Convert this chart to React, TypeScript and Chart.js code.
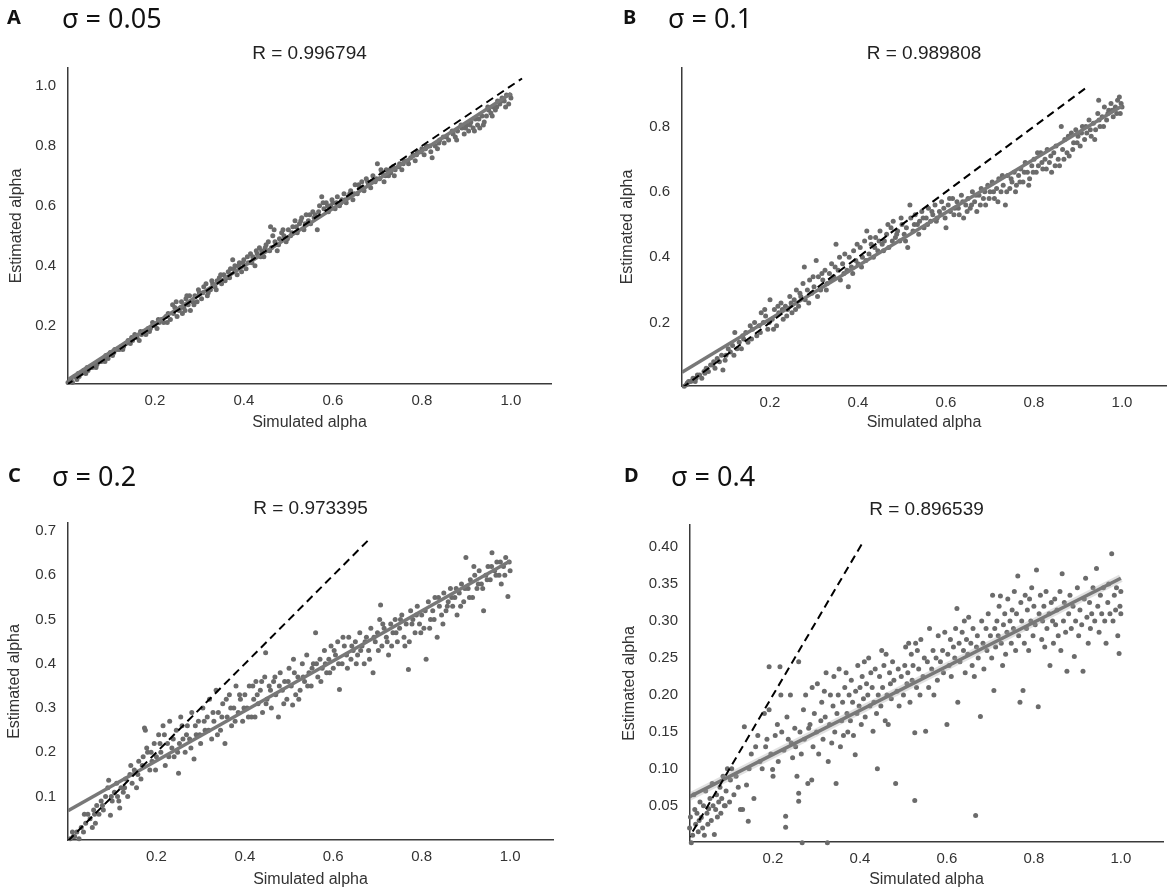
import React, { useEffect, useRef } from "react";
import { Chart, registerables } from "chart.js";

Chart.register(...registerables);

// ---------------- data ----------------
const xTickValues = [0.2, 0.4, 0.6, 0.8, 1.0];
const yTicksA = [0.2, 0.4, 0.6, 0.8, 1.0];
const yTicksB = [0.2, 0.4, 0.6, 0.8];
const yTicksC = [0.1, 0.2, 0.3, 0.4, 0.5, 0.6, 0.7];
const yTicksD = [0.05, 0.1, 0.15, 0.2, 0.25, 0.3, 0.35, 0.4];

const panelLetters = ["A", "B", "C", "D"];
const sigmaTitles = ["σ = 0.05", "σ = 0.1", "σ = 0.2", "σ = 0.4"];
const rTitles = ["R = 0.996794", "R = 0.989808", "R = 0.973395", "R = 0.896539"];

const fitA = [[0, 0.015], [1.0, 0.975]];
const fitB = [[0, 0.048], [1.0, 0.863]];
const fitC = [[0, 0.068], [1.0, 0.632]];
const fitD = [[0, 0.06], [1.0, 0.358]];

const identityA = [[0, 0], [1.025, 1.025]];
const identityB = [[0, 0], [0.92, 0.92]];
const identityC = [[0, 0], [0.682, 0.682]];
const identityD = [[0, 0], [0.405, 0.405]];

const pointsA = [
  [0.005,0.01],[0.01,0.02],[0.015,0.01],[0.02,0.03],[0.025,0.02],[0.03,0.03],[0.035,0.04],[0.04,0.05],[0.045,0.04],[0.05,0.05],
  [0.055,0.06],[0.06,0.06],[0.065,0.07],[0.07,0.07],[0.075,0.08],[0.08,0.08],[0.085,0.09],[0.09,0.1],[0.095,0.09],[0.1,0.11],
  [0.105,0.1],[0.11,0.12],[0.115,0.12],[0.12,0.12],[0.125,0.13],[0.13,0.13],[0.135,0.14],[0.14,0.15],[0.145,0.14],[0.15,0.15],
  [0.155,0.17],[0.16,0.16],[0.165,0.15],[0.17,0.17],[0.175,0.18],[0.18,0.17],[0.185,0.19],[0.19,0.19],[0.195,0.21],[0.2,0.2],
  [0.205,0.19],[0.21,0.21],[0.215,0.22],[0.22,0.21],[0.225,0.23],[0.23,0.24],[0.235,0.22],[0.24,0.27],[0.242,0.24],[0.245,0.26],
  [0.25,0.23],[0.255,0.25],[0.26,0.28],[0.262,0.24],[0.265,0.26],[0.27,0.29],[0.272,0.3],[0.275,0.27],[0.28,0.25],[0.285,0.28],
  [0.29,0.3],[0.295,0.28],[0.3,0.31],[0.305,0.29],[0.31,0.33],[0.315,0.34],[0.32,0.31],[0.325,0.32],[0.33,0.34],[0.335,0.33],
  [0.34,0.35],[0.345,0.36],[0.35,0.34],[0.355,0.37],[0.36,0.36],[0.365,0.38],[0.37,0.39],[0.375,0.42],[0.38,0.4],[0.385,0.37],
  [0.39,0.41],[0.395,0.38],[0.4,0.42],[0.405,0.39],[0.41,0.41],[0.415,0.44],[0.42,0.43],[0.425,0.4],[0.43,0.44],[0.435,0.46],
  [0.44,0.45],[0.445,0.43],[0.45,0.47],[0.455,0.48],[0.46,0.53],[0.462,0.46],[0.465,0.5],[0.47,0.48],[0.475,0.45],[0.48,0.49],
  [0.485,0.51],[0.49,0.5],[0.495,0.48],[0.5,0.52],[0.505,0.5],[0.51,0.53],[0.515,0.55],[0.52,0.51],[0.525,0.54],[0.53,0.56],
  [0.535,0.52],[0.54,0.57],[0.545,0.55],[0.55,0.54],[0.555,0.58],[0.56,0.57],[0.565,0.52],[0.57,0.6],[0.575,0.63],[0.58,0.59],
  [0.585,0.61],[0.59,0.58],[0.595,0.6],[0.6,0.61],[0.605,0.59],[0.61,0.63],[0.615,0.6],[0.62,0.62],[0.625,0.64],[0.63,0.61],
  [0.635,0.63],[0.64,0.65],[0.645,0.62],[0.65,0.67],[0.655,0.64],[0.66,0.66],[0.665,0.68],[0.67,0.65],[0.675,0.69],[0.68,0.67],
  [0.685,0.66],[0.69,0.7],[0.695,0.68],[0.7,0.74],[0.705,0.69],[0.71,0.71],[0.715,0.68],[0.72,0.72],[0.725,0.7],[0.73,0.71],
  [0.735,0.73],[0.74,0.72],[0.75,0.74],[0.755,0.72],[0.76,0.75],[0.77,0.74],[0.775,0.76],[0.78,0.77],[0.785,0.75],[0.79,0.78],
  [0.8,0.79],[0.805,0.77],[0.81,0.8],[0.82,0.78],[0.823,0.76],[0.83,0.8],[0.835,0.79],[0.84,0.82],[0.85,0.81],[0.855,0.83],
  [0.86,0.82],[0.87,0.84],[0.875,0.83],[0.88,0.85],[0.89,0.86],[0.895,0.84],[0.9,0.87],[0.905,0.85],[0.91,0.88],[0.915,0.86],
  [0.92,0.89],[0.925,0.87],[0.93,0.86],[0.935,0.9],[0.94,0.88],[0.945,0.9],[0.95,0.92],[0.955,0.91],[0.96,0.93],[0.965,0.92],
  [0.97,0.95],[0.975,0.94],[0.98,0.96],[0.985,0.95],[0.99,0.97],[0.995,0.94],[1.0,0.96],
  [0.012,0.02],[0.028,0.04],[0.048,0.06],[0.068,0.06],[0.088,0.08],[0.108,0.11],[0.128,0.12],[0.148,0.16],[0.168,0.18],[0.188,0.18],
  [0.208,0.22],[0.228,0.21],[0.248,0.28],[0.258,0.26],[0.268,0.25],[0.278,0.3],[0.288,0.27],[0.298,0.32],[0.308,0.31],[0.318,0.3],
  [0.328,0.35],[0.338,0.32],[0.348,0.37],[0.358,0.35],[0.368,0.36],[0.378,0.39],[0.388,0.4],[0.398,0.41],[0.408,0.43],[0.418,0.41],
  [0.428,0.45],[0.438,0.43],[0.448,0.46],[0.458,0.45],[0.468,0.52],[0.478,0.47],[0.488,0.52],[0.498,0.49],[0.508,0.51],[0.518,0.53],
  [0.528,0.55],[0.538,0.54],[0.548,0.57],[0.558,0.56],[0.568,0.58],[0.578,0.61],[0.588,0.6],[0.598,0.62],[0.608,0.61],[0.618,0.61],
  [0.628,0.62],[0.638,0.64],[0.648,0.64],[0.658,0.67],[0.668,0.66],[0.678,0.68],[0.688,0.68],[0.698,0.69],[0.708,0.72],[0.718,0.7],
  [0.728,0.72],[0.738,0.7],[0.748,0.73],[0.758,0.74],[0.768,0.75],[0.788,0.77],[0.798,0.78],[0.808,0.79],[0.818,0.8],[0.838,0.81],
  [0.848,0.83],[0.868,0.85],[0.878,0.82],[0.888,0.87],[0.898,0.86],[0.908,0.87],[0.918,0.85],[0.928,0.89],[0.938,0.87],[0.948,0.93],
  [0.958,0.9],[0.968,0.93],[0.978,0.95],[0.988,0.93],[0.998,0.97]
];

const pointsB = [
  [0.005,0.005],[0.01,0.01],[0.015,0.02],[0.02,0.02],[0.025,0.03],[0.03,0.02],[0.035,0.04],[0.04,0.04],[0.045,0.03],[0.05,0.05],
  [0.055,0.06],[0.06,0.05],[0.065,0.07],[0.07,0.07],[0.075,0.06],[0.08,0.09],[0.085,0.08],[0.09,0.1],[0.093,0.055],[0.1,0.1],
  [0.105,0.12],[0.11,0.11],[0.115,0.13],[0.12,0.17],[0.125,0.12],[0.13,0.14],[0.135,0.12],[0.14,0.15],[0.145,0.17],[0.15,0.14],
  [0.155,0.19],[0.16,0.18],[0.165,0.2],[0.17,0.16],[0.175,0.19],[0.18,0.23],[0.185,0.2],[0.19,0.22],[0.195,0.18],[0.2,0.27],
  [0.205,0.21],[0.21,0.24],[0.215,0.19],[0.22,0.23],[0.225,0.26],[0.23,0.21],[0.235,0.25],[0.24,0.24],[0.245,0.28],[0.25,0.23],
  [0.255,0.27],[0.26,0.3],[0.265,0.25],[0.27,0.28],[0.275,0.32],[0.278,0.37],[0.28,0.27],[0.285,0.3],[0.29,0.33],[0.295,0.29],
  [0.3,0.31],[0.305,0.39],[0.31,0.34],[0.315,0.3],[0.32,0.33],[0.325,0.36],[0.33,0.32],[0.335,0.35],[0.34,0.38],[0.345,0.34],
  [0.35,0.44],[0.355,0.36],[0.36,0.33],[0.365,0.38],[0.37,0.41],[0.375,0.36],[0.378,0.31],[0.38,0.4],[0.385,0.37],[0.39,0.42],
  [0.395,0.39],[0.4,0.38],[0.405,0.43],[0.41,0.4],[0.415,0.45],[0.42,0.48],[0.425,0.41],[0.43,0.44],[0.435,0.4],[0.44,0.46],
  [0.445,0.42],[0.45,0.48],[0.455,0.44],[0.46,0.45],[0.465,0.47],[0.47,0.43],[0.475,0.49],[0.48,0.51],[0.485,0.46],[0.49,0.48],
  [0.495,0.45],[0.5,0.5],[0.505,0.47],[0.51,0.49],[0.513,0.43],[0.518,0.56],[0.52,0.52],[0.525,0.48],[0.53,0.53],[0.535,0.5],
  [0.54,0.51],[0.545,0.54],[0.55,0.49],[0.555,0.52],[0.56,0.55],[0.565,0.51],[0.57,0.53],[0.575,0.56],[0.58,0.52],[0.585,0.54],
  [0.59,0.57],[0.595,0.55],[0.6,0.49],[0.605,0.56],[0.61,0.54],[0.615,0.58],[0.62,0.55],[0.625,0.57],[0.63,0.53],[0.635,0.59],
  [0.64,0.52],[0.645,0.56],[0.65,0.58],[0.655,0.55],[0.66,0.6],[0.665,0.57],[0.67,0.54],[0.675,0.59],[0.68,0.61],[0.685,0.58],
  [0.69,0.56],[0.695,0.62],[0.7,0.6],[0.705,0.63],[0.71,0.58],[0.715,0.61],[0.72,0.64],[0.725,0.6],[0.73,0.62],[0.735,0.56],
  [0.74,0.65],[0.745,0.61],[0.75,0.63],[0.755,0.66],[0.76,0.62],[0.765,0.65],[0.77,0.67],[0.775,0.63],[0.78,0.69],[0.785,0.66],
  [0.79,0.64],[0.795,0.68],[0.8,0.7],[0.805,0.66],[0.81,0.68],[0.815,0.72],[0.82,0.67],[0.825,0.7],[0.83,0.73],[0.835,0.69],
  [0.84,0.66],[0.845,0.72],[0.85,0.74],[0.855,0.7],[0.858,0.68],[0.862,0.8],[0.865,0.73],[0.87,0.76],[0.875,0.72],[0.88,0.71],
  [0.885,0.78],[0.89,0.75],[0.895,0.79],[0.9,0.77],[0.905,0.74],[0.91,0.8],[0.915,0.76],[0.92,0.78],[0.925,0.82],[0.93,0.77],
  [0.935,0.81],[0.94,0.79],[0.945,0.84],[0.947,0.88],[0.95,0.8],[0.955,0.83],[0.96,0.86],[0.965,0.82],[0.97,0.85],[0.975,0.87],
  [0.98,0.83],[0.985,0.86],[0.99,0.88],[0.994,0.89],[0.996,0.84],[1.0,0.86],
  [0.012,0.015],[0.032,0.03],[0.052,0.045],[0.072,0.08],[0.098,0.085],[0.118,0.1],[0.138,0.16],[0.158,0.15],[0.178,0.17],[0.188,0.24],
  [0.198,0.2],[0.208,0.18],[0.218,0.25],[0.228,0.24],[0.238,0.22],[0.248,0.26],[0.258,0.24],[0.268,0.29],[0.288,0.26],[0.298,0.34],
  [0.308,0.28],[0.318,0.35],[0.328,0.3],[0.338,0.33],[0.348,0.37],[0.358,0.4],[0.368,0.35],[0.388,0.35],[0.398,0.44],[0.408,0.37],
  [0.418,0.39],[0.428,0.46],[0.438,0.43],[0.448,0.45],[0.458,0.42],[0.468,0.5],[0.478,0.45],[0.488,0.47],[0.498,0.52],[0.508,0.45],
  [0.528,0.5],[0.538,0.47],[0.548,0.52],[0.558,0.5],[0.568,0.54],[0.578,0.51],[0.588,0.53],[0.598,0.52],[0.608,0.58],[0.618,0.53],
  [0.628,0.55],[0.638,0.57],[0.648,0.54],[0.658,0.56],[0.668,0.59],[0.678,0.56],[0.688,0.6],[0.698,0.58],[0.708,0.6],[0.718,0.57],
  [0.728,0.65],[0.738,0.6],[0.748,0.64],[0.758,0.6],[0.768,0.63],[0.778,0.66],[0.788,0.62],[0.798,0.66],[0.808,0.72],[0.818,0.69],
  [0.828,0.67],[0.838,0.71],[0.848,0.68],[0.868,0.7],[0.878,0.77],[0.888,0.73],[0.898,0.75],[0.908,0.78],[0.918,0.8],[0.928,0.79],
  [0.938,0.76],[0.948,0.82],[0.958,0.8],[0.968,0.84],[0.978,0.85],[0.988,0.84],[0.998,0.87]
];

const pointsC = [
  [0.005,0.005],[0.01,0.02],[0.015,0.01],[0.02,0.02],[0.025,0.005],[0.03,0.03],[0.037,0.06],[0.04,0.04],[0.045,0.06],[0.05,0.05],
  [0.055,0.03],[0.058,0.07],[0.06,0.06],[0.065,0.08],[0.07,0.06],[0.075,0.09],[0.08,0.07],[0.085,0.1],[0.09,0.12],[0.092,0.137],
  [0.096,0.058],[0.1,0.09],[0.105,0.11],[0.11,0.13],[0.115,0.09],[0.117,0.074],[0.12,0.12],[0.125,0.11],[0.13,0.14],[0.135,0.1],
  [0.14,0.15],[0.145,0.13],[0.15,0.16],[0.155,0.12],[0.16,0.18],[0.165,0.14],[0.17,0.19],[0.173,0.255],[0.175,0.25],[0.18,0.2],
  [0.185,0.16],[0.19,0.18],[0.195,0.22],[0.2,0.19],[0.205,0.24],[0.21,0.2],[0.215,0.26],[0.22,0.17],[0.225,0.22],[0.23,0.27],
  [0.235,0.21],[0.24,0.19],[0.245,0.25],[0.25,0.153],[0.252,0.22],[0.255,0.28],[0.26,0.23],[0.265,0.2],[0.27,0.26],[0.275,0.23],
  [0.28,0.29],[0.285,0.185],[0.29,0.24],[0.295,0.27],[0.3,0.22],[0.305,0.3],[0.31,0.25],[0.315,0.28],[0.32,0.32],[0.325,0.23],
  [0.33,0.27],[0.335,0.34],[0.34,0.29],[0.345,0.25],[0.35,0.31],[0.355,0.22],[0.36,0.28],[0.365,0.33],[0.37,0.26],[0.375,0.3],
  [0.38,0.35],[0.385,0.29],[0.39,0.32],[0.395,0.27],[0.4,0.33],[0.405,0.3],[0.41,0.35],[0.415,0.28],[0.42,0.32],[0.423,0.28],
  [0.425,0.36],[0.43,0.31],[0.435,0.34],[0.44,0.29],[0.445,0.37],[0.447,0.425],[0.45,0.32],[0.455,0.35],[0.46,0.3],[0.465,0.36],
  [0.47,0.33],[0.476,0.28],[0.48,0.38],[0.485,0.34],[0.49,0.36],[0.495,0.32],[0.5,0.39],[0.505,0.35],[0.508,0.307],[0.51,0.41],
  [0.515,0.33],[0.52,0.37],[0.525,0.34],[0.53,0.4],[0.535,0.36],[0.54,0.42],[0.545,0.38],[0.55,0.35],[0.555,0.4],[0.56,0.47],
  [0.565,0.37],[0.57,0.41],[0.575,0.39],[0.58,0.43],[0.585,0.38],[0.59,0.41],[0.595,0.44],[0.6,0.39],[0.605,0.42],[0.61,0.45],
  [0.614,0.342],[0.62,0.4],[0.625,0.44],[0.63,0.42],[0.635,0.46],[0.64,0.41],[0.645,0.43],[0.65,0.45],[0.655,0.42],[0.66,0.47],
  [0.665,0.44],[0.67,0.4],[0.675,0.46],[0.68,0.43],[0.685,0.48],[0.69,0.38],[0.695,0.45],[0.7,0.47],[0.705,0.5],[0.707,0.533],
  [0.71,0.44],[0.715,0.48],[0.72,0.46],[0.725,0.42],[0.73,0.49],[0.735,0.47],[0.74,0.5],[0.745,0.45],[0.75,0.48],[0.755,0.51],
  [0.76,0.46],[0.765,0.49],[0.77,0.387],[0.772,0.45],[0.775,0.52],[0.78,0.5],[0.785,0.47],[0.79,0.53],[0.795,0.49],[0.8,0.51],
  [0.805,0.48],[0.81,0.41],[0.815,0.54],[0.82,0.5],[0.825,0.52],[0.83,0.55],[0.835,0.46],[0.84,0.53],[0.845,0.51],[0.85,0.56],
  [0.855,0.52],[0.86,0.54],[0.865,0.57],[0.87,0.53],[0.875,0.55],[0.88,0.51],[0.885,0.56],[0.89,0.58],[0.895,0.54],[0.9,0.64],
  [0.905,0.57],[0.91,0.59],[0.915,0.55],[0.92,0.6],[0.925,0.57],[0.93,0.61],[0.935,0.58],[0.94,0.52],[0.945,0.6],[0.95,0.62],
  [0.955,0.59],[0.959,0.651],[0.965,0.61],[0.97,0.63],[0.975,0.6],[0.98,0.58],[0.985,0.62],[0.99,0.64],[0.995,0.552],[1.0,0.61],
  [0.012,0.01],[0.035,0.02],[0.062,0.04],[0.078,0.08],[0.098,0.1],[0.112,0.1],[0.128,0.12],[0.142,0.17],[0.158,0.15],[0.168,0.17],
  [0.178,0.21],[0.188,0.2],[0.198,0.16],[0.208,0.22],[0.218,0.24],[0.228,0.19],[0.238,0.23],[0.248,0.2],[0.258,0.26],[0.268,0.24],
  [0.278,0.21],[0.288,0.26],[0.298,0.24],[0.308,0.27],[0.318,0.25],[0.328,0.29],[0.338,0.24],[0.348,0.28],[0.358,0.32],[0.368,0.3],
  [0.378,0.27],[0.388,0.33],[0.398,0.3],[0.408,0.28],[0.418,0.35],[0.428,0.33],[0.438,0.36],[0.448,0.31],[0.458,0.34],[0.468,0.37],
  [0.478,0.35],[0.488,0.31],[0.498,0.36],[0.512,0.38],[0.522,0.32],[0.532,0.37],[0.542,0.35],[0.552,0.39],[0.562,0.4],[0.572,0.36],
  [0.582,0.4],[0.592,0.38],[0.602,0.43],[0.612,0.4],[0.622,0.46],[0.632,0.39],[0.642,0.44],[0.652,0.4],[0.662,0.43],[0.672,0.45],
  [0.682,0.41],[0.692,0.46],[0.702,0.43],[0.712,0.49],[0.722,0.45],[0.732,0.44],[0.742,0.47],[0.752,0.5],[0.762,0.44],[0.778,0.49],
  [0.788,0.51],[0.798,0.47],[0.808,0.52],[0.818,0.48],[0.828,0.5],[0.838,0.55],[0.848,0.49],[0.858,0.53],[0.868,0.55],[0.878,0.57],
  [0.888,0.53],[0.898,0.57],[0.908,0.55],[0.918,0.62],[0.928,0.58],[0.938,0.57],[0.948,0.59],[0.958,0.62],[0.968,0.6],[0.978,0.63],
  [0.988,0.6],[0.998,0.63]
];

const pointsD = [
  [0.005,0.005],[0.008,0.02],[0.01,0.035],[0.012,0.0],[0.015,0.01],[0.018,0.065],[0.02,0.045],[0.022,0.025],[0.025,0.04],[0.028,0.015],
  [0.03,0.03],[0.032,0.055],[0.035,0.034],[0.038,0.02],[0.04,0.05],[0.042,0.01],[0.045,0.07],[0.048,0.04],[0.05,0.025],[0.052,0.046],
  [0.055,0.06],[0.058,0.03],[0.06,0.08],[0.062,0.05],[0.065,0.011],[0.068,0.045],[0.07,0.065],[0.072,0.035],[0.075,0.055],[0.078,0.075],
  [0.08,0.04],[0.082,0.06],[0.085,0.09],[0.088,0.05],[0.09,0.05],[0.092,0.07],[0.095,0.1],[0.1,0.055],[0.102,0.085],[0.105,0.1],
  [0.11,0.065],[0.115,0.09],[0.12,0.075],[0.125,0.045],[0.13,0.045],[0.134,0.157],[0.139,0.078],[0.143,0.029],[0.145,0.1],[0.15,0.12],
  [0.156,0.06],[0.16,0.13],[0.165,0.145],[0.17,0.11],[0.175,0.1],[0.18,0.175],[0.183,0.13],[0.186,0.14],[0.191,0.18],[0.191,0.238],
  [0.195,0.12],[0.199,0.099],[0.2,0.09],[0.205,0.145],[0.21,0.16],[0.212,0.11],[0.216,0.238],[0.218,0.2],[0.22,0.15],[0.225,0.125],
  [0.229,0.036],[0.229,0.021],[0.232,0.17],[0.235,0.14],[0.24,0.2],[0.242,0.135],[0.245,0.115],[0.25,0.155],[0.252,0.13],[0.255,0.09],
  [0.259,0.245],[0.259,0.056],[0.259,0.067],[0.262,0.15],[0.265,0.12],[0.267,0.0],[0.27,0.18],[0.272,0.14],[0.275,0.2],[0.28,0.08],
  [0.282,0.155],[0.285,0.16],[0.289,0.085],[0.29,0.21],[0.292,0.13],[0.295,0.175],[0.3,0.15],[0.302,0.215],[0.305,0.12],[0.31,0.165],
  [0.312,0.19],[0.315,0.14],[0.318,0.205],[0.32,0.17],[0.322,0.23],[0.325,0.0],[0.327,0.11],[0.33,0.16],[0.332,0.2],[0.335,0.135],
  [0.338,0.185],[0.34,0.225],[0.342,0.15],[0.345,0.08],[0.347,0.175],[0.35,0.2],[0.352,0.235],[0.355,0.13],[0.358,0.165],[0.36,0.19],
  [0.362,0.145],[0.365,0.21],[0.368,0.23],[0.37,0.175],[0.372,0.15],[0.375,0.2],[0.378,0.165],[0.38,0.22],[0.383,0.19],[0.385,0.145],
  [0.389,0.119],[0.39,0.205],[0.393,0.175],[0.395,0.24],[0.398,0.185],[0.4,0.21],[0.403,0.16],[0.405,0.225],[0.408,0.195],[0.41,0.245],
  [0.412,0.17],[0.415,0.215],[0.418,0.2],[0.42,0.25],[0.423,0.185],[0.425,0.23],[0.428,0.21],[0.43,0.151],[0.432,0.19],[0.435,0.235],
  [0.438,0.175],[0.44,0.1],[0.442,0.2],[0.445,0.225],[0.448,0.185],[0.45,0.26],[0.452,0.21],[0.455,0.24],[0.458,0.165],[0.46,0.255],
  [0.462,0.2],[0.465,0.16],[0.468,0.23],[0.47,0.215],[0.472,0.195],[0.475,0.245],[0.478,0.22],[0.482,0.08],[0.485,0.205],[0.488,0.235],
  [0.49,0.185],[0.495,0.225],[0.5,0.2],[0.503,0.24],[0.505,0.265],[0.508,0.215],[0.51,0.23],[0.512,0.27],[0.515,0.19],[0.518,0.255],
  [0.52,0.22],[0.522,0.24],[0.526,0.057],[0.526,0.149],[0.528,0.27],[0.53,0.21],[0.532,0.26],[0.535,0.235],[0.538,0.2],[0.54,0.275],
  [0.545,0.225],[0.548,0.25],[0.551,0.151],[0.555,0.245],[0.558,0.21],[0.56,0.29],[0.565,0.235],[0.568,0.26],[0.57,0.2],[0.575,0.25],
  [0.578,0.22],[0.58,0.28],[0.585,0.245],[0.59,0.26],[0.592,0.23],[0.595,0.285],[0.6,0.16],[0.602,0.255],[0.605,0.24],[0.608,0.275],
  [0.61,0.225],[0.615,0.265],[0.618,0.25],[0.62,0.29],[0.623,0.317],[0.625,0.19],[0.628,0.27],[0.63,0.245],[0.635,0.285],[0.638,0.26],
  [0.64,0.3],[0.642,0.23],[0.645,0.275],[0.648,0.255],[0.65,0.305],[0.655,0.27],[0.658,0.24],[0.66,0.29],[0.663,0.225],[0.666,0.037],
  [0.668,0.265],[0.67,0.28],[0.672,0.25],[0.677,0.171],[0.68,0.3],[0.683,0.27],[0.685,0.235],[0.69,0.29],[0.692,0.26],[0.695,0.31],
  [0.7,0.28],[0.703,0.25],[0.705,0.335],[0.708,0.206],[0.71,0.29],[0.712,0.265],[0.715,0.3],[0.718,0.28],[0.72,0.32],[0.723,0.334],
  [0.725,0.27],[0.728,0.24],[0.73,0.295],[0.733,0.31],[0.735,0.255],[0.738,0.285],[0.74,0.33],[0.745,0.3],[0.748,0.27],[0.75,0.315],
  [0.753,0.29],[0.755,0.34],[0.758,0.26],[0.76,0.31],[0.763,0.361],[0.765,0.28],[0.768,0.19],[0.77,0.325],[0.772,0.3],[0.775,0.206],
  [0.778,0.27],[0.78,0.335],[0.783,0.29],[0.785,0.315],[0.788,0.26],[0.79,0.33],[0.793,0.3],[0.795,0.345],[0.798,0.28],[0.8,0.32],
  [0.803,0.295],[0.806,0.369],[0.81,0.184],[0.812,0.31],[0.815,0.335],[0.818,0.275],[0.82,0.3],[0.823,0.32],[0.825,0.265],[0.828,0.34],
  [0.83,0.29],[0.835,0.31],[0.837,0.24],[0.84,0.325],[0.843,0.3],[0.845,0.27],[0.848,0.33],[0.85,0.295],[0.853,0.315],[0.856,0.28],
  [0.86,0.34],[0.862,0.26],[0.865,0.364],[0.868,0.3],[0.87,0.325],[0.873,0.285],[0.876,0.232],[0.88,0.31],[0.883,0.335],[0.886,0.29],
  [0.89,0.32],[0.893,0.252],[0.896,0.3],[0.9,0.345],[0.903,0.28],[0.906,0.315],[0.91,0.295],[0.913,0.232],[0.916,0.33],[0.919,0.358],
  [0.922,0.305],[0.925,0.27],[0.928,0.325],[0.93,0.29],[0.933,0.31],[0.936,0.345],[0.94,0.3],[0.944,0.371],[0.947,0.32],[0.95,0.285],
  [0.953,0.335],[0.956,0.31],[0.96,0.345],[0.963,0.3],[0.966,0.27],[0.97,0.325],[0.972,0.35],[0.975,0.31],[0.979,0.391],[0.982,0.3],
  [0.985,0.335],[0.988,0.315],[0.99,0.345],[0.993,0.28],[0.996,0.256],[0.998,0.32],[1.0,0.34],[1.0,0.31]
];

// ---------------- layout / styles ----------------
const PANEL_W = 585;
const PANEL_H = 450;
const TICK_FONT = "'Liberation Sans', Arial, Helvetica, sans-serif";
const TITLE_FONT = "'Noto Sans', 'Open Sans', sans-serif";

type Panel = {
  ox: number; oy: number;
  plot: { left: number; top: number; right: number; bottom: number };
  xRange: [number, number]; yRange: [number, number];
  yTicks: number[]; decimals: number;
  points: number[][]; fit: number[][]; identity: number[][];
  yTitleCenter: number; xTitleCenter: number;
  letterX: number; sigmaX: number; headY: number; rY: number;
  band: boolean;
};

const panels: Panel[] = [
  { ox: 0, oy: 0, plot: { left: 68, top: 68, right: 551, bottom: 384 }, xRange: [0.005, 1.09], yRange: [0.005, 1.06],
    yTicks: yTicksA, decimals: 1, points: pointsA, fit: fitA, identity: identityA,
    yTitleCenter: 17, xTitleCenter: 423, letterX: 7, sigmaX: 62, headY: 17, rY: 52, band: false },
  { ox: 585, oy: 0, plot: { left: 97, top: 68, right: 581, bottom: 386 }, xRange: [0, 1.1], yRange: [0.006, 0.979],
    yTicks: yTicksB, decimals: 1, points: pointsB, fit: fitB, identity: identityB,
    yTitleCenter: 43, xTitleCenter: 423, letterX: 38, sigmaX: 83, headY: 17, rY: 52, band: false },
  { ox: 0, oy: 450, plot: { left: 68, top: 73, right: 553, bottom: 390 }, xRange: [0, 1.097], yRange: [0.002, 0.718],
    yTicks: yTicksC, decimals: 1, points: pointsC, fit: fitC, identity: identityC,
    yTitleCenter: 15, xTitleCenter: 430, letterX: 8, sigmaX: 52, headY: 25, rY: 57, band: false },
  { ox: 585, oy: 450, plot: { left: 105, top: 75, right: 578, bottom: 392 }, xRange: [0.009, 1.097], yRange: [0.001, 0.43],
    yTicks: yTicksD, decimals: 2, points: pointsD, fit: fitD, identity: identityD,
    yTitleCenter: 45, xTitleCenter: 430, letterX: 39, sigmaX: 86, headY: 25, rY: 58, band: true },
];

const toXY = (arr: number[][]) => arr.map(([x, y]) => ({ x, y }));

function PanelChart({ p, idx }: { p: Panel; idx: number }) {
  const ref = useRef<HTMLCanvasElement | null>(null);
  useEffect(() => {
    if (!ref.current) return;
    const datasets: any[] = [
      { data: toXY(p.identity), showLine: true, borderColor: "#000", borderWidth: 2, borderDash: [8, 5],
        pointRadius: 0, fill: false, order: 0 },
      { data: toXY(p.fit), showLine: true, borderColor: "#787878", borderWidth: 3.5,
        pointRadius: 0, fill: false, order: 1 },
    ];
    if (p.band) {
      datasets.push({ data: toXY(p.fit), showLine: true, borderColor: "rgba(170,170,170,0.35)", borderWidth: 8,
        pointRadius: 0, fill: false, order: 2 });
    }
    datasets.push({ data: toXY(p.points), backgroundColor: "#6b6b6b", borderWidth: 0, pointRadius: 2.5,
      pointHoverRadius: 2.5, clip: false, order: 3 });

    const chart = new Chart(ref.current, {
      type: "scatter",
      data: { datasets },
      options: {
        animation: false,
        responsive: false,
        devicePixelRatio: 1,
        events: [],
        layout: { padding: { left: 0, top: p.plot.top, right: PANEL_W - p.plot.right, bottom: 0 } },
        plugins: { legend: { display: false }, tooltip: { enabled: false }, title: { display: false } },
        scales: {
          x: {
            type: "linear", min: p.xRange[0], max: p.xRange[1],
            grid: { display: false, drawTicks: false },
            border: { display: true, color: "#3a3a3a", width: 1.5 },
            afterBuildTicks: (s: any) => { s.ticks = xTickValues.map((v) => ({ value: v })); },
            afterFit: (s: any) => { s.height = PANEL_H - p.plot.bottom; },
            ticks: { padding: 8, color: "#333", autoSkip: false, maxRotation: 0,
              font: { family: TICK_FONT, size: 15 }, callback: (v: any) => Number(v).toFixed(1) },
            title: { display: true, text: "Simulated alpha", color: "#333",
              font: { family: TICK_FONT, size: 16 }, padding: { top: 0, bottom: PANEL_H - p.xTitleCenter - 9.6 } },
          },
          y: {
            type: "linear", min: p.yRange[0], max: p.yRange[1],
            grid: { display: false, drawTicks: false },
            border: { display: true, color: "#3a3a3a", width: 1.5 },
            afterBuildTicks: (s: any) => { s.ticks = p.yTicks.map((v) => ({ value: v })); },
            afterFit: (s: any) => { s.width = p.plot.left; },
            ticks: { padding: 12, color: "#333", autoSkip: false,
              font: { family: TICK_FONT, size: 15 }, callback: (v: any) => Number(v).toFixed(p.decimals) },
            title: { display: true, text: "Estimated alpha", color: "#333",
              font: { family: TICK_FONT, size: 16 }, padding: { top: p.yTitleCenter - 9.6, bottom: 0 } },
          },
        },
      } as any,
    });
    return () => chart.destroy();
  }, [p]);

  const cx = (p.plot.left + p.plot.right) / 2;
  return (
    <div style={{ position: "absolute", left: p.ox, top: p.oy, width: PANEL_W, height: PANEL_H }}>
      <canvas ref={ref} width={PANEL_W} height={PANEL_H} style={{ position: "absolute", left: 0, top: 0, width: PANEL_W, height: PANEL_H }} />
      <div style={{ position: "absolute", left: p.letterX, top: p.headY, transform: "translateY(-50%)",
        fontFamily: TITLE_FONT, fontWeight: 700, fontSize: 20, lineHeight: 1, color: "#111" }}>{panelLetters[idx]}</div>
      <div style={{ position: "absolute", left: p.sigmaX, top: p.headY, transform: "translateY(-50%)",
        fontFamily: TITLE_FONT, fontSize: 27, lineHeight: 1, color: "#111", whiteSpace: "nowrap" }}>{sigmaTitles[idx]}</div>
      <div style={{ position: "absolute", left: cx, top: p.rY, transform: "translate(-50%, -50%)",
        fontFamily: TICK_FONT, fontSize: 19, lineHeight: 1, color: "#222", whiteSpace: "nowrap" }}>{rTitles[idx]}</div>
    </div>
  );
}

export default function App() {
  return (
    <div style={{ position: "absolute", left: 0, top: 0, width: 1170, height: 895, background: "#fff", overflow: "hidden" }}>
      {panels.map((p, i) => (
        <PanelChart key={i} p={p} idx={i} />
      ))}
    </div>
  );
}
